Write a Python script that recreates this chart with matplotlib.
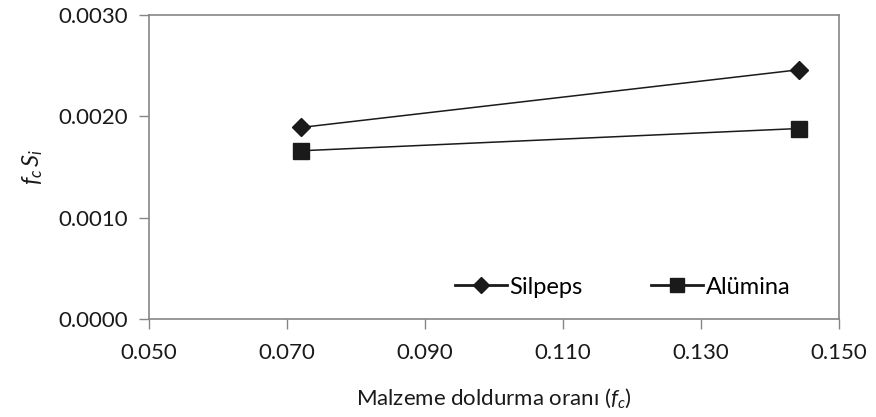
import matplotlib
matplotlib.use("Agg")
import matplotlib.pyplot as plt
import matplotlib.ticker as ticker

# ── Data ──────────────────────────────────────────────────────────────────────
fill_ratio = [0.072, 0.1442]
silpeps = [0.00189, 0.00246]
alumina = [0.00166, 0.00188]

x_ticks = [0.050, 0.070, 0.090, 0.110, 0.130, 0.150]
y_ticks = [0.0000, 0.0010, 0.0020, 0.0030]

# ── Style ─────────────────────────────────────────────────────────────────────
plt.rcParams["font.family"] = ["Lato", "DejaVu Sans"]
plt.rcParams["mathtext.fontset"] = "custom"
plt.rcParams["mathtext.rm"] = "Lato"
plt.rcParams["mathtext.it"] = "Lato:italic"

fig = plt.figure(figsize=(8.76, 4.17), dpi=100)
ax = fig.add_axes([0.170, 0.235, 0.788, 0.729])

ax.plot(fill_ratio, silpeps, color="#1a1a1a", linewidth=1.1,
        marker="D", markersize=9, label="Silpeps")
ax.plot(fill_ratio, alumina, color="#1a1a1a", linewidth=1.1,
        marker="s", markersize=12, label="Alümina")

ax.set_xlim(0.050, 0.150)
ax.set_ylim(0.0, 0.0030)
ax.set_xticks(x_ticks)
ax.set_yticks(y_ticks)
ax.xaxis.set_major_formatter(ticker.FormatStrFormatter("%.3f"))
ax.yaxis.set_major_formatter(ticker.FormatStrFormatter("%.4f"))

for side in ["left", "right", "top", "bottom"]:
    ax.spines[side].set_color("#868686")
    ax.spines[side].set_linewidth(1.2)
ax.tick_params(axis="both", direction="out", length=7, width=1.0,
               color="#868686", labelsize=16, labelcolor="#1a1a1a")
ax.tick_params(axis="x", pad=10)
ax.tick_params(axis="y", pad=8)
ax.tick_params(top=False, right=False)

ax.set_xlabel("Malzeme doldurma oranı ($f_c$)", fontsize=16, color="#1a1a1a",
              labelpad=17)
ax.set_ylabel("$f_c\\,S_i$", fontsize=17, color="#1a1a1a", labelpad=10)

leg = ax.legend(loc="lower right", ncol=2, frameon=False, fontsize=17,
                handlelength=2.2, handletextpad=0.1, columnspacing=2.9,
                bbox_to_anchor=(0.96, 0.0), markerscale=0.85)
for line in leg.get_lines():
    line.set_linewidth(2.0)

fig.savefig("out.png", dpi=100)
